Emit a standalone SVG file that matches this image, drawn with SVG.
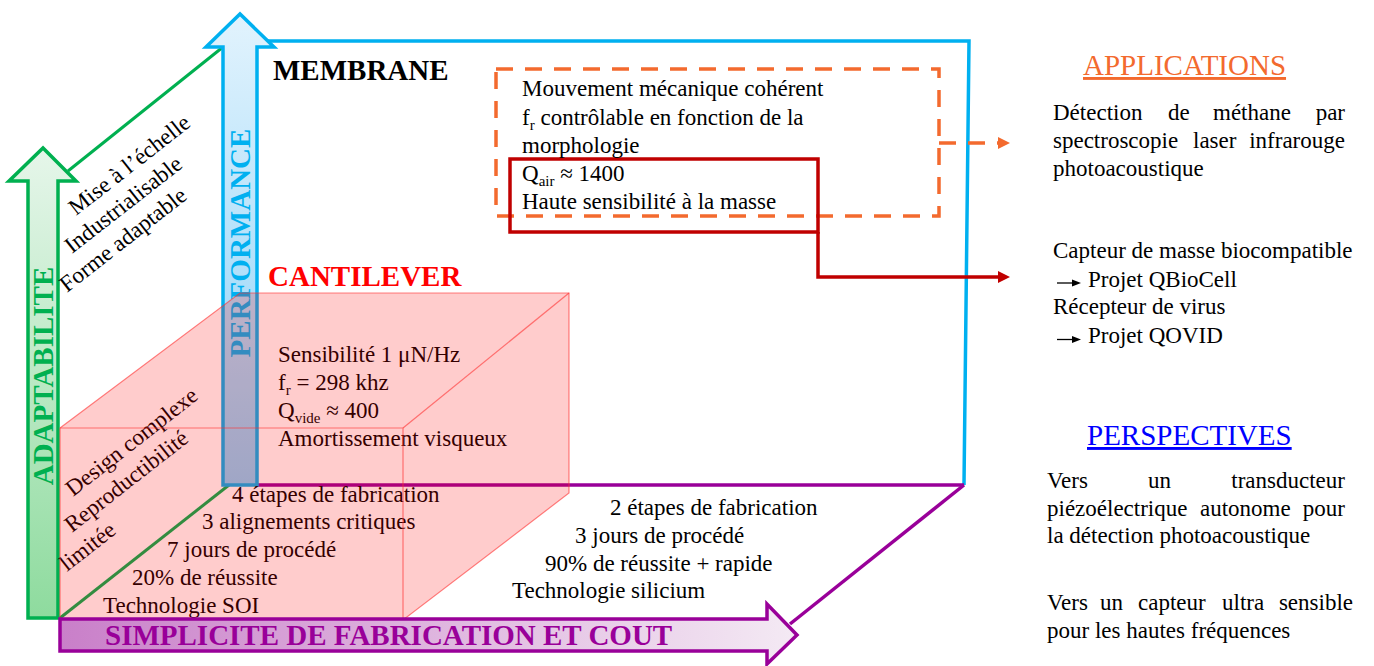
<svg xmlns="http://www.w3.org/2000/svg" width="1374" height="666" viewBox="0 0 1374 666">
<defs>
  <linearGradient id="gGreen" x1="0" y1="0" x2="0" y2="1">
    <stop offset="0" stop-color="#e6f6ea"/>
    <stop offset="1" stop-color="#8edb9e"/>
  </linearGradient>
  <linearGradient id="gBlue" x1="0" y1="0" x2="0" y2="1">
    <stop offset="0" stop-color="#e2f3fd"/>
    <stop offset="1" stop-color="#88d0f8"/>
  </linearGradient>
  <linearGradient id="gPurple" x1="0" y1="0" x2="1" y2="0">
    <stop offset="0" stop-color="#c97fc9"/>
    <stop offset="1" stop-color="#f4eaf4"/>
  </linearGradient>
  <marker id="mOrange" markerUnits="userSpaceOnUse" markerWidth="12" markerHeight="12" refX="0" refY="6" orient="auto">
    <path d="M0,0 L12,6 L0,12 Z" fill="#F36A2E"/>
  </marker>
  <marker id="mRed" markerUnits="userSpaceOnUse" markerWidth="12" markerHeight="12" refX="0" refY="6" orient="auto">
    <path d="M0,0 L12,6 L0,12 Z" fill="#C00000"/>
  </marker>
</defs>
<style>
  text { font-family: "Liberation Serif", "Times New Roman", serif; font-size: 23px; fill: #000; }
  .big { font-size: 29px; font-weight: bold; }
  .head { font-size: 29px; text-decoration: underline; }
  .sub { font-size: 15px; }
  .edge { fill: none; stroke-width: 3.5; stroke-linejoin: miter; }
</style>

<g id="membrane-box">
  <polyline class="edge" points="267,41 969,41 964,485" stroke="#00B0F0"/>
  <text class="big" x="273" y="80">MEMBRANE</text>
</g>

<g id="axes-lines">
  <line x1="68" y1="171" x2="223" y2="47" stroke="#00B050" stroke-width="3"/>
  <line x1="60" y1="618" x2="229" y2="485" stroke="#00B050" stroke-width="3"/>
  <line x1="257" y1="485" x2="964" y2="485" stroke="#990099" stroke-width="3.5"/>
  <line x1="964" y1="485" x2="790" y2="624" stroke="#990099" stroke-width="3.5"/>
</g>

<g id="arrow-performance">
  <path d="M223,485 L223,47 L206,47 L240,14 L274,47 L257,47 L257,485 Z" fill="url(#gBlue)" stroke="#00B0F0" stroke-width="3.5"/>
  <text class="big" transform="translate(250,243) rotate(-90)" text-anchor="middle" fill="#00B0F0" style="fill:#00B0F0">PERFORMANCE</text>
</g>

<g id="arrow-adaptabilite">
  <path d="M28,618 L28,181 L9,181 L43,148 L76,181 L58,181 L58,618 Z" fill="url(#gGreen)" stroke="#00B050" stroke-width="3.5"/>
  <text class="big" transform="translate(53,376) rotate(-90)" text-anchor="middle" style="fill:#00B050">ADAPTABILITE</text>
</g>

<g id="adaptabilite-notes">
  <text transform="translate(76,216) rotate(-38)">Mise à l’échelle</text>
  <text transform="translate(72,254) rotate(-38)">Industrialisable</text>
  <text transform="translate(67,293) rotate(-38)">Forme adaptable</text>
</g>

<g id="membrane-props">
  <rect x="496" y="69" width="443" height="147" fill="none" stroke="#F36A2E" stroke-width="3.5" stroke-dasharray="17 12"/>
  <rect x="510" y="159" width="308" height="73" fill="none" stroke="#C00000" stroke-width="3.5"/>
  <text x="522" y="96">Mouvement mécanique cohérent</text>
  <text x="522" y="125">f<tspan class="sub" dy="5">r</tspan><tspan dy="-5"> contrôlable en fonction de la</tspan></text>
  <text x="522" y="153">morphologie</text>
  <text x="522" y="181">Q<tspan class="sub" dy="5">air</tspan><tspan dy="-5"> ≈ 1400</tspan></text>
  <text x="522" y="209">Haute sensibilité à la masse</text>
</g>

<g id="cantilever-box">
  <text x="278" y="362">Sensibilité 1 μN/Hz</text>
  <text x="278" y="390">f<tspan class="sub" dy="5">r</tspan><tspan dy="-5"> = 298 khz</tspan></text>
  <text x="278" y="418">Q<tspan class="sub" dy="5">vide</tspan><tspan dy="-5"> ≈ 400</tspan></text>
  <text x="278" y="446">Amortissement visqueux</text>
  <text transform="translate(73,497) rotate(-38)">Design complexe</text>
  <text transform="translate(72,533) rotate(-38)">Reproductibilité</text>
  <text transform="translate(67,572) rotate(-38)">limitée</text>
  <text x="232" y="502">4 étapes de fabrication</text>
  <text x="202" y="529">3 alignements critiques</text>
  <text x="167" y="557">7 jours de procédé</text>
  <text x="132" y="585">20% de réussite</text>
  <text x="103" y="613">Technologie SOI</text>
  <polygon points="60,428 240,293 569,293 569,493 403,620 60,620" fill="#FF0000" fill-opacity="0.2" stroke="#FF3030" stroke-opacity="0.6" stroke-width="1.2"/>
  <polyline points="60,428 403,428 403,620" fill="none" stroke="#FF3030" stroke-opacity="0.6" stroke-width="1.2"/>
  <line x1="403" y1="428" x2="569" y2="293" stroke="#FF3030" stroke-opacity="0.6" stroke-width="1.2"/>
  <text class="big" x="268" y="286" style="fill:#FF0000">CANTILEVER</text>
</g>

<g id="membrane-fab">
  <text x="610" y="515">2 étapes de fabrication</text>
  <text x="575" y="543">3 jours de procédé</text>
  <text x="545" y="571">90% de réussite + rapide</text>
  <text x="512" y="598">Technologie silicium</text>
</g>

<g id="arrow-simplicite">
  <path d="M60,619 L767,619 L767,604 L797,635 L767,664 L767,651 L60,651 Z" fill="url(#gPurple)" stroke="#990099" stroke-width="3.5"/>
  <text class="big" x="105" y="645" style="fill:#990099">SIMPLICITE DE FABRICATION ET COUT</text>
</g>

<g id="connectors">
  <polyline points="939,143 998,143" fill="none" stroke="#F36A2E" stroke-width="3.5" stroke-dasharray="17 12" marker-end="url(#mOrange)"/>
  <polyline points="818,232 818,277 998,277" fill="none" stroke="#C00000" stroke-width="3.5" marker-end="url(#mRed)"/>
</g>

<g id="applications">
  <text class="head" x="1083" y="75" style="fill:#F36A2E">APPLICATIONS</text>
  <text y="120"><tspan x="1053">Détection</tspan><tspan x="1168">de</tspan><tspan x="1213">méthane</tspan><tspan x="1345" text-anchor="end">par</tspan></text>
  <text y="148"><tspan x="1053">spectroscopie</tspan><tspan x="1193">laser</tspan><tspan x="1345" text-anchor="end">infrarouge</tspan></text>
  <text x="1053" y="176">photoacoustique</text>
  <text x="1053" y="258">Capteur de masse biocompatible</text>
  <path d="M1057,283 L1073,283" stroke="#000" stroke-width="1.3"/>
  <path d="M1072,279.5 L1081,283 L1072,286.5 Z" fill="#000"/>
  <text x="1088" y="287">Projet QBioCell</text>
  <text x="1053" y="314">Récepteur de virus</text>
  <path d="M1057,339.5 L1073,339.5" stroke="#000" stroke-width="1.3"/>
  <path d="M1072,336 L1081,339.5 L1072,343 Z" fill="#000"/>
  <text x="1088" y="343">Projet QOVID</text>
</g>

<g id="perspectives">
  <text class="head" x="1087" y="445" style="fill:#0000FF">PERSPECTIVES</text>
  <text y="488"><tspan x="1047">Vers</tspan><tspan x="1148">un</tspan><tspan x="1345" text-anchor="end">transducteur</tspan></text>
  <text y="516"><tspan x="1047">piézoélectrique</tspan><tspan x="1200">autonome</tspan><tspan x="1345" text-anchor="end">pour</tspan></text>
  <text x="1047" y="543">la détection photoacoustique</text>
  <text y="610"><tspan x="1047">Vers</tspan><tspan x="1100">un</tspan><tspan x="1138">capteur</tspan><tspan x="1222">ultra</tspan><tspan x="1353" text-anchor="end">sensible</tspan></text>
  <text x="1047" y="638">pour les hautes fréquences</text>
</g>
</svg>
